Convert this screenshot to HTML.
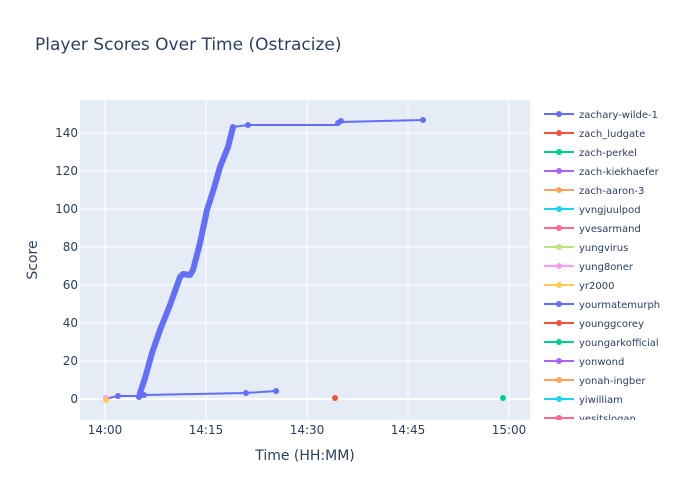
<!DOCTYPE html>
<html><head><style>
body{margin:0;background:#fff;font-family:"DejaVu Sans",sans-serif;}
svg text{font-family:"DejaVu Sans",sans-serif;fill:#2a3f5f;}
</style></head><body>
<svg width="700" height="500" xmlns="http://www.w3.org/2000/svg">
<rect width="700" height="500" fill="#fff"/>
<text x="35" y="50" font-size="17">Player Scores Over Time (Ostracize)</text>
<rect x="80" y="100" width="450" height="320" fill="#e5ecf6"/>
<g stroke="#fff" stroke-width="1">
<line x1="80" x2="530" y1="361" y2="361"/><line x1="80" x2="530" y1="323" y2="323"/>
<line x1="80" x2="530" y1="285" y2="285"/><line x1="80" x2="530" y1="247" y2="247"/>
<line x1="80" x2="530" y1="209" y2="209"/><line x1="80" x2="530" y1="171" y2="171"/>
<line x1="80" x2="530" y1="133" y2="133"/>
<line y1="100" y2="420" x1="105" x2="105"/><line y1="100" y2="420" x1="206" x2="206"/>
<line y1="100" y2="420" x1="307" x2="307"/><line y1="100" y2="420" x1="408" x2="408"/>
<line y1="100" y2="420" x1="509" x2="509"/>
</g>
<line x1="80" x2="530" y1="399" y2="399" stroke="#fff" stroke-width="2"/>
<g font-size="12" text-anchor="end">
<text x="78" y="403">0</text><text x="78" y="365">20</text><text x="78" y="327">40</text>
<text x="78" y="289">60</text><text x="78" y="251">80</text><text x="78" y="213">100</text>
<text x="78" y="175">120</text><text x="78" y="137">140</text>
</g>
<g font-size="12" text-anchor="middle">
<text x="105" y="434">14:00</text><text x="206" y="434">14:15</text><text x="307" y="434">14:30</text>
<text x="408" y="434">14:45</text><text x="509" y="434">15:00</text>
</g>
<text x="305" y="460" font-size="14" text-anchor="middle">Time (HH:MM)</text>
<text transform="translate(37,260) rotate(-90)" font-size="14" text-anchor="middle">Score</text>
<polyline fill="none" stroke="#636efa" stroke-width="2" points="105,399 118,396 139,396 144,395 246,393 276,391"/>
<g fill="#636efa"><circle cx="118" cy="396" r="3"/><circle cx="144" cy="395" r="3"/><circle cx="246" cy="393" r="3"/><circle cx="276" cy="391" r="3"/></g>
<polyline fill="none" stroke="#636efa" stroke-width="2" points="233,127 248,125 338,125 340,122 423,120"/>
<polyline fill="none" stroke="#636efa" stroke-width="6" stroke-linejoin="round" stroke-linecap="round" points="139,397 141,390 145,378 152,353 160,330 170,305 180,277 183,274 190,275 193,270 200,243 207,210 214,188 220,167 228,147 233,127"/>
<g fill="#636efa"><circle cx="248" cy="125" r="3"/><circle cx="338" cy="123" r="3"/><circle cx="341" cy="121" r="3"/><circle cx="423" cy="120" r="3"/></g>
<circle cx="335" cy="398" r="3" fill="#ef553b"/>
<circle cx="503" cy="398" r="3" fill="#00cc96"/>
<circle cx="106" cy="398" r="3" fill="#ff97ff"/>
<circle cx="106" cy="400" r="3" fill="#fecb52"/>
<g font-size="10" stroke-width="2">
<g transform="translate(0,114)"><line x1="544" x2="574" stroke="#636efa"/><circle cx="559" r="3" fill="#636efa"/><text x="579" y="4">zachary-wilde-1</text></g>
<g transform="translate(0,133)"><line x1="544" x2="574" stroke="#ef553b"/><circle cx="559" r="3" fill="#ef553b"/><text x="579" y="4">zach_ludgate</text></g>
<g transform="translate(0,152)"><line x1="544" x2="574" stroke="#00cc96"/><circle cx="559" r="3" fill="#00cc96"/><text x="579" y="4">zach-perkel</text></g>
<g transform="translate(0,171)"><line x1="544" x2="574" stroke="#ab63fa"/><circle cx="559" r="3" fill="#ab63fa"/><text x="579" y="4">zach-kiekhaefer</text></g>
<g transform="translate(0,190)"><line x1="544" x2="574" stroke="#ffa15a"/><circle cx="559" r="3" fill="#ffa15a"/><text x="579" y="4">zach-aaron-3</text></g>
<g transform="translate(0,209)"><line x1="544" x2="574" stroke="#19d3f3"/><circle cx="559" r="3" fill="#19d3f3"/><text x="579" y="4">yvngjuulpod</text></g>
<g transform="translate(0,228)"><line x1="544" x2="574" stroke="#ff6692"/><circle cx="559" r="3" fill="#ff6692"/><text x="579" y="4">yvesarmand</text></g>
<g transform="translate(0,247)"><line x1="544" x2="574" stroke="#b6e880"/><circle cx="559" r="3" fill="#b6e880"/><text x="579" y="4">yungvirus</text></g>
<g transform="translate(0,266)"><line x1="544" x2="574" stroke="#ff97ff"/><circle cx="559" r="3" fill="#ff97ff"/><text x="579" y="4">yung8oner</text></g>
<g transform="translate(0,285)"><line x1="544" x2="574" stroke="#fecb52"/><circle cx="559" r="3" fill="#fecb52"/><text x="579" y="4">yr2000</text></g>
<g transform="translate(0,304)"><line x1="544" x2="574" stroke="#636efa"/><circle cx="559" r="3" fill="#636efa"/><text x="579" y="4">yourmatemurph</text></g>
<g transform="translate(0,323)"><line x1="544" x2="574" stroke="#ef553b"/><circle cx="559" r="3" fill="#ef553b"/><text x="579" y="4">younggcorey</text></g>
<g transform="translate(0,342)"><line x1="544" x2="574" stroke="#00cc96"/><circle cx="559" r="3" fill="#00cc96"/><text x="579" y="4">youngarkofficial</text></g>
<g transform="translate(0,361)"><line x1="544" x2="574" stroke="#ab63fa"/><circle cx="559" r="3" fill="#ab63fa"/><text x="579" y="4">yonwond</text></g>
<g transform="translate(0,380)"><line x1="544" x2="574" stroke="#ffa15a"/><circle cx="559" r="3" fill="#ffa15a"/><text x="579" y="4">yonah-ingber</text></g>
<g transform="translate(0,399)"><line x1="544" x2="574" stroke="#19d3f3"/><circle cx="559" r="3" fill="#19d3f3"/><text x="579" y="4">yiwilliam</text></g>
<g transform="translate(0,418)"><line x1="544" x2="574" stroke="#ff6692"/><circle cx="559" r="3" fill="#ff6692"/><text x="579" y="4">yesitslogan</text></g>
</g>
<rect x="535" y="420" width="165" height="12" fill="#fff"/>
</svg>
</body></html>
